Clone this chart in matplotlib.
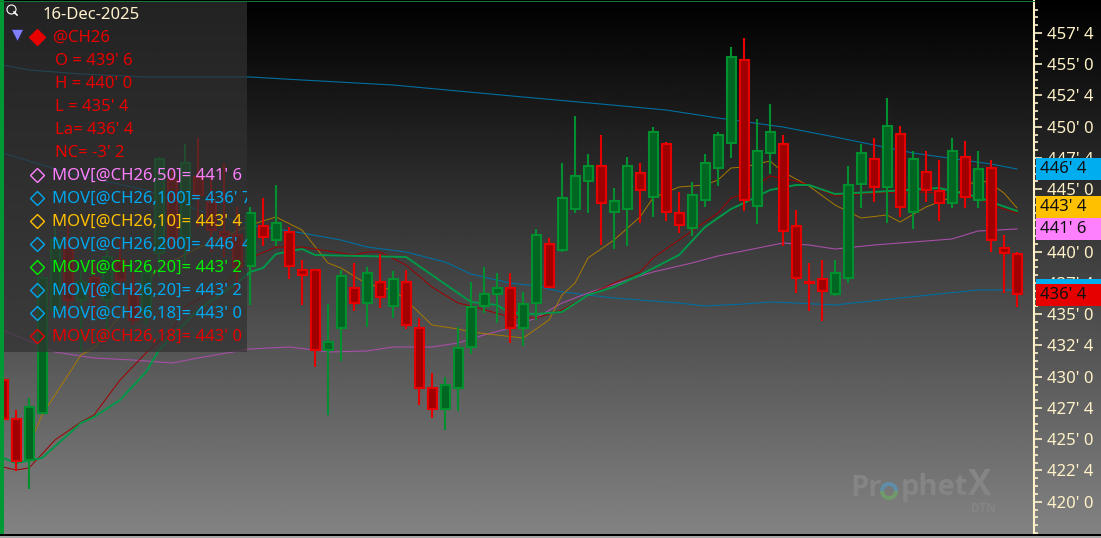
import numpy as np
import matplotlib
matplotlib.use("Agg")
import matplotlib.pyplot as plt
from matplotlib.patches import Rectangle, Wedge
from matplotlib.ticker import FixedLocator, FixedFormatter

FONT = "Noto Sans"
plt.rcParams['font.family'] = [FONT, 'DejaVu Sans']

highs = [429.9,427.34,428.3,438.54,441.98,442.14,438.54,439.1,440.14,440.94,438.3,439.34,447.58,446.54,448.62,449.1,445.98,447.1,443.58,443.58,
444.3,445.34,441.98,439.34,438.54,435.82,438.54,439.1,438.78,439.82,438.46,438.54,434.7,430.3,429.98,433.98,437.58,438.78,438.3,438.3,
436.78,441.82,441.1,447.1,450.86,447.82,449.34,445.1,447.58,447.1,449.98,448.78,444.78,445.58,447.82,449.58,456.38,457.1,450.62,451.82,
449.34,443.34,439.1,439.34,439.34,446.86,448.62,449.1,452.3,450.06,448.06,448.06,447.34,449.1,448.86,448.06,447.34,441.34,439.98]
lows = [426.54,422.46,421.02,427.1,434.78,434.54,431.98,434.78,433.5,436.7,434.14,434.14,437.98,440.3,438.78,441.98,439.98,439.58,436.7,435.74,
440.46,440.46,437.82,435.74,430.78,426.94,431.26,435.26,433.98,435.5,434.7,433.82,427.74,426.7,425.74,427.26,431.82,435.1,434.3,432.7,
432.46,434.54,437.1,439.98,443.1,443.1,440.54,440.22,440.46,442.3,442.78,442.46,441.5,441.26,443.58,445.26,447.5,443.26,442.22,446.22,
440.46,436.7,435.26,434.46,436.46,437.5,443.5,443.98,442.3,442.78,441.82,443.98,442.46,443.5,443.5,443.5,439.98,436.7,435.58]
opens = [429.74,426.62,423.34,427.1,435.34,440.3,436.14,437.9,436.14,439.34,436.94,435.1,439.9,445.74,441.1,445.98,443.98,441.58,441.34,438.86,
442.06,440.94,441.58,438.54,438.54,432.14,433.9,437.1,435.9,437.58,435.66,437.58,433.9,429.1,427.42,429.1,432.38,435.66,436.62,437.1,
433.9,435.9,440.62,440.14,443.42,445.66,446.86,443.18,443.42,446.3,444.38,448.62,443.1,441.9,444.14,446.7,448.7,455.34,443.66,447.9,
448.62,442.06,437.58,437.82,436.62,437.9,445.42,447.42,445.18,449.42,443.18,446.38,444.86,443.9,447.58,444.14,446.7,440.3,439.82]
closes = [426.62,423.26,427.58,437.9,440.94,436.14,437.58,436.54,439.58,437.74,434.54,438.3,447.42,441.1,447.1,444.54,441.74,441.18,438.78,443.1,
441.18,442.3,438.86,438.14,432.14,432.78,438.06,435.9,438.3,436.38,437.82,434.14,429.1,427.42,429.34,432.3,435.58,436.62,437.1,433.9,
435.82,441.34,437.18,444.3,446.06,446.86,443.9,444.06,446.86,444.94,449.58,443.18,442.14,444.54,447.1,449.34,455.58,444.14,448.06,449.58,
441.66,437.9,437.5,436.86,438.3,445.34,447.9,445.18,450.06,443.58,447.42,444.94,443.9,448.06,444.38,446.62,440.94,439.9,436.62]

ma200_idx = [0,2,6,11,19,23,30,40,46,51,55,60,64,70,76,78]
ma200_val = [454.94,454.54,454.22,453.98,453.98,453.74,453.34,452.38,451.82,451.34,450.7,449.98,449.18,447.9,447.02,446.62]
ma100_idx = [0,5,11,15,19,23,26,28,31,34,36,39,41,43,47,52,54,57,59,61,64,69,75,78]
ma100_val = [447.9,446.3,444.94,443.34,442.14,441.5,440.94,440.38,439.98,439.18,438.22,437.5,437.26,436.78,436.3,435.9,435.66,435.82,435.98,435.9,435.74,436.3,436.94,436.94]
ma50_idx = [0,4,7,10,13,15,19,22,24,25,28,30,33,35,37,39,41,43,45,48,50,53,55,60,62,64,67,70,73,75,78]
ma50_val = [433.74,431.98,431.5,431.34,431.1,431.5,432.22,432.38,432.14,431.98,432.06,432.38,432.38,432.7,433.34,433.9,434.7,435.9,436.7,437.74,438.38,439.1,439.66,440.7,440.54,440.22,440.54,440.78,441.02,441.66,441.82]
ma10_idx = [2,3,6,7,12,15,19,21,23,25,26,28,30,31,33,35,36,40,42,43,44,45,47,49,50,52,54,55,56,57,59,60,62,64,66,68,69,71,73,75,76,77,78]
ma10_val = [424.54,426.94,431.74,432.3,438.7,440.3,442.14,442.78,441.74,439.1,438.7,437.42,436.94,436.14,434.14,433.82,433.58,433.1,434.54,436.54,437.5,439.5,440.94,442.78,444.3,445.18,445.34,445.74,446.7,446.78,447.26,446.38,445.26,443.74,442.7,442.94,442.38,443.58,444.38,445.82,445.42,444.7,443.5]
ma20_idx = [0,1,3,6,7,9,11,12,15,18,19,20,21,23,24,31,33,35,36,38,39,41,43,45,47,49,52,54,56,57,59,61,62,64,67,72,75,76,78]
ma20_val = [423.5,423.1,423.5,426.3,426.78,428.14,430.38,432.14,435.34,437.5,438.38,438.7,439.82,440.22,439.74,439.58,438.14,436.7,435.98,435.74,435.1,435.02,435.18,436.54,437.18,438.14,439.74,441.98,443.42,443.9,444.94,445.34,445.34,444.62,444.78,445.1,444.38,443.98,443.26]
ma18_idx = [0,1,2,4,6,7,9,11,13,14,17,19,21,23,26,27,28,29,31,33,35,36,39,41,43,45,47,49,50,55,56,57,59,61,62,64,67,71,75,76,78]
ma18_val = [422.78,422.54,422.7,424.94,426.38,426.94,429.74,431.9,433.74,435.58,437.34,439.5,440.38,440.38,439.9,439.74,439.98,439.98,438.94,437.18,435.9,435.66,434.78,434.7,435.34,436.54,437.5,438.38,439.5,443.1,444.3,444.62,446.06,445.66,445.34,444.46,444.7,444.78,444.3,443.74,443.1]

tick_values = [457.5,455,452.5,450,447.5,445,442.5,440,437.5,435,432.5,430,427.5,425,422.5,420]
tick_labels = ["457' 4","455' 0","452' 4","450' 0","447' 4","445' 0","442' 4","440' 0","437' 4","435' 0","432' 4","430' 0","427' 4","425' 0","422' 4","420' 0"]
legend_rows = [("16-Dec-2025","#fff2cc"),("@CH26","#e60000"),("O = 439' 6","#e60000"),("H = 440' 0","#e60000"),("L = 435' 4","#e60000"),("La= 436' 4","#e60000"),("NC= -3' 2","#e60000"),
("MOV[@CH26,50]= 441' 6","#ff80ff"),("MOV[@CH26,100]= 436' 7","#00a8f0"),("MOV[@CH26,10]= 443' 4","#ffc000"),("MOV[@CH26,200]= 446' 4","#00a8f0"),("MOV[@CH26,20]= 443' 2","#00f000"),("MOV[@CH26,20]= 443' 2","#00a8f0"),("MOV[@CH26,18]= 443' 0","#00a8f0"),("MOV[@CH26,18]= 443' 0","#e60000")]
price_tags = [("446' 4","#00aef0",158,180),("443' 4","#ffc000",196,218),("441' 6","#ff80ff",218,240),("436' 4","#e60000",284,306)]

W, H = 1101, 538
fig = plt.figure(figsize=(W/100, H/100), dpi=100)

bg = fig.add_axes([0,0,1,1], zorder=0)
bg.imshow(np.linspace(0,0.515,256).reshape(-1,1), cmap="gray", vmin=0, vmax=1, aspect="auto", extent=(0,W,H,0))
bg.axis("off")

ax = fig.add_axes([0, (H-534)/H, 1034/W, 534/H], zorder=1)
ax.patch.set_alpha(0)
ax.set_xlim(-3/13, 1031/13)
ax.set_ylim(460.14-0.08*534, 460.14)
for s in ["top","left","bottom"]:
    ax.spines[s].set_visible(False)
ax.spines["right"].set_color("#fff2c8")
ax.spines["right"].set_linewidth(1.5)
ax.yaxis.tick_right()
ax.yaxis.set_major_locator(FixedLocator(tick_values))
ax.yaxis.set_major_formatter(FixedFormatter(tick_labels))
ax.yaxis.set_minor_locator(FixedLocator(np.arange(417.5,460,0.625)))
ax.tick_params(axis="y", which="major", length=6, width=1.2, color="#fff2c8", labelcolor="#fff2c8", labelsize=12, pad=3.5)
ax.tick_params(axis="y", which="minor", length=3, width=1.2, color="#fff2c8")
ax.set_xticks([])
for lab in ax.get_yticklabels():
    lab.set_fontfamily(FONT)

ax.plot(ma200_idx, ma200_val, color="#006fa0", lw=0.8, zorder=2)
ax.plot(ma100_idx, ma100_val, color="#006fa0", lw=0.8, zorder=2)
ax.plot(ma50_idx, ma50_val, color="#a64fa6", lw=0.8, zorder=2)
ax.plot(ma10_idx, ma10_val, color="#a87a00", lw=0.7, zorder=2)
ax.plot(ma18_idx, ma18_val, color="#a00000", lw=0.7, zorder=2)
ax.plot(ma20_idx, ma20_val, color="#009a30", lw=1.4, zorder=3)
ax.plot(ma20_idx, ma20_val, color="#0090a8", lw=0.7, ls=(0,(1,1.5)), zorder=3)

idx = np.arange(len(opens))
o, h, l, c = map(np.array, (opens, highs, lows, closes))
up = c >= o
edge = np.where(up, "#009030", "#e60000")
fill = np.where(up, "#006622", "#a00000")
ax.vlines(idx, l, h, colors=edge, lw=1.5, zorder=4, capstyle="butt")
ax.bar(idx, np.abs(c-o), bottom=np.minimum(o,c), width=9/13, color=fill, edgecolor=edge, linewidth=1.5, zorder=5)

ov = fig.add_axes([0,0,1,1], zorder=5)
ov.set_xlim(0,W); ov.set_ylim(H,0); ov.axis("off"); ov.patch.set_alpha(0)

panel = Rectangle((4,1),243,351,facecolor="#313131",alpha=0.71,edgecolor="none")
ov.add_patch(panel)
clip = Rectangle((4,1),243,351,transform=ov.transData)

row_y = [15+23*i for i in range(len(legend_rows))]
row_x = [43,53,55,55,55,55,55]+[52]*8
for (txt,col),x,y in zip(legend_rows,row_x,row_y):
    t = ov.text(x,y,txt,color=col,fontsize=12,va="center",ha="left",family=FONT)
    t.set_clip_path(clip); t.set_clip_on(True)

ov.plot([11],[9],marker="o",ms=6.5,mfc="none",mec="#ffffff",mew=0.8)
ov.plot([14,17],[12,15],color="#ffffff",lw=1.2)
ov.plot([16.5],[34.5],marker="v",ms=8,mfc="#8080ff",mec="#202040",mew=0.5)
ov.plot([36.5],[37],marker="D",ms=8,mfc="#e60000",mec="#e60000")
for (txt,col),y in zip(legend_rows[7:],row_y[7:]):
    ov.plot([36.5],[y-1],marker="D",ms=7,mfc="none",mec=col,mew=1)

ov.add_patch(Rectangle((0,0),4,H,facecolor="#009933",edgecolor="none"))
ov.add_patch(Rectangle((0,1),1035,1,facecolor="#117a33",edgecolor="none"))
ov.add_patch(Rectangle((0,534),W,1.5,facecolor="#000000",edgecolor="none"))
ov.add_patch(Rectangle((0,535.5),W,2.5,facecolor="#a8a8a8",edgecolor="none"))

ov.add_patch(Rectangle((1036,279),65,6,facecolor="#00aef0",edgecolor="none"))
for txt,col,y0,y1 in price_tags:
    ov.add_patch(Rectangle((1036,y0),65,y1-y0,facecolor=col,edgecolor="none"))
    ov.text(1040,(y0+y1)/2,txt,color="#101010",fontsize=12,va="center",ha="left",family=FONT)

wm = "#858585"
ov.text(850,488,"Pr",color=wm,fontsize=21,fontweight="bold",va="center",ha="left",family="Open Sans")
ov.text(901,488,"phet",color=wm,fontsize=21,fontweight="bold",va="center",ha="left",family="Open Sans")
ov.text(968,486,"X",color=wm,fontsize=25,fontweight="bold",va="center",ha="left",family="Open Sans")
ov.add_patch(Wedge((889,491),9,180,360,width=4,facecolor="#5f8fa8",edgecolor="none"))
ov.add_patch(Wedge((889,491),9,0,180,width=4,facecolor="#6f9a6a",edgecolor="none"))
ov.text(921,509,"powered by",color="#7e7e7e",fontsize=5.5,va="center",ha="left",family="Open Sans")
ov.text(971,508,"DTN",color=wm,fontsize=8.5,fontweight="bold",va="center",ha="left",family="Open Sans")

fig.savefig("out.png", dpi=100)
